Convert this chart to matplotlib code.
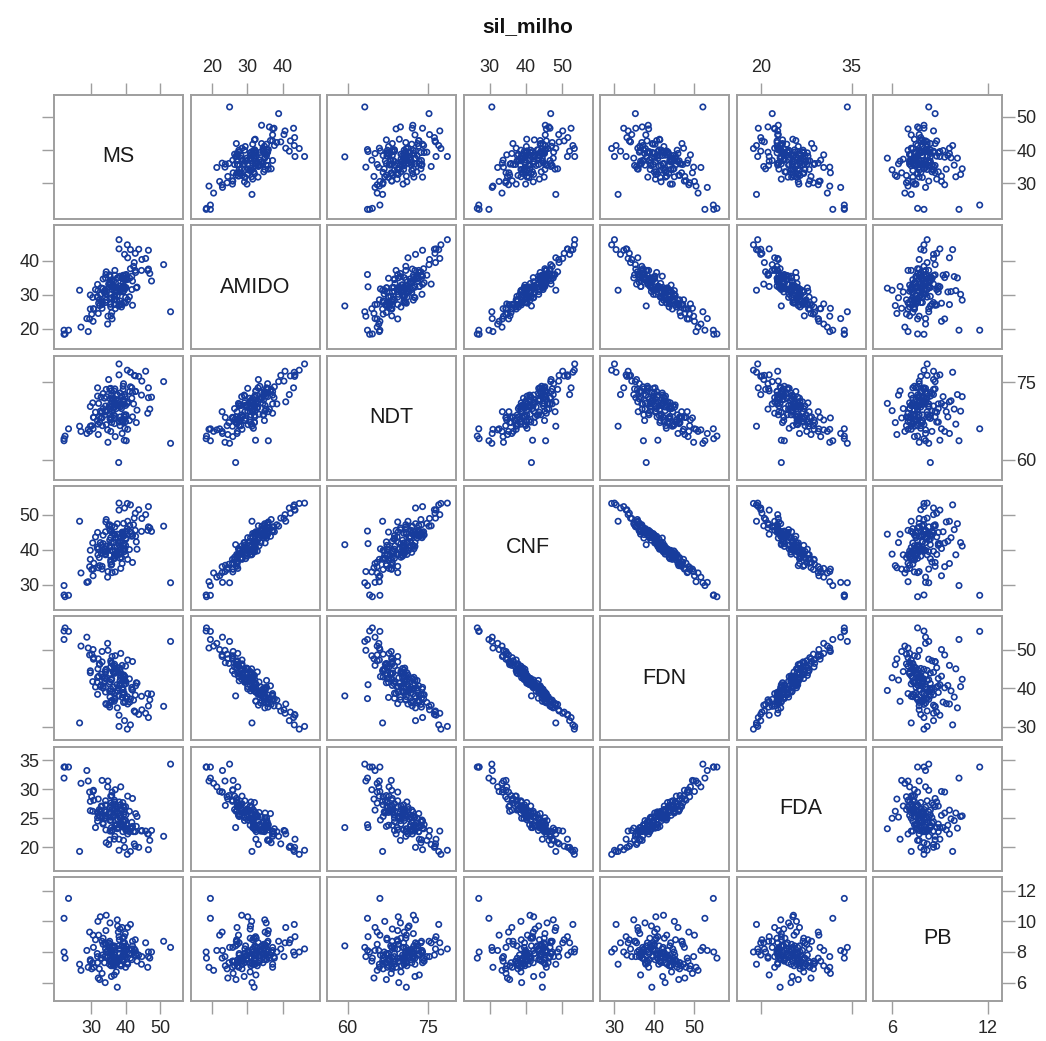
import matplotlib
matplotlib.use('Agg')
import matplotlib.pyplot as plt
import numpy as np

plt.rcParams['font.family'] = ['Liberation Sans', 'DejaVu Sans']

# ---- data ----
MS = [42.8, 29.8, 38.3, 35.1, 40.6, 37.9, 31.9, 42.3, 29.2, 42.0,
      33.0, 42.8, 39.0, 30.5, 40.1, 30.2, 42.9, 37.6, 29.8, 39.6,
      41.4, 35.8, 34.2, 53.0, 39.4, 43.3, 32.2, 39.6, 33.2, 35.4,
      37.6, 32.7, 44.6, 22.2, 39.2, 43.8, 32.5, 35.7, 38.4, 34.3,
      39.5, 39.7, 30.8, 36.7, 31.9, 39.6, 27.1, 46.6, 38.4, 35.7,
      36.9, 36.1, 37.7, 36.4, 46.6, 31.8, 42.0, 36.7, 39.2, 33.5,
      22.5, 39.2, 33.9, 44.7, 32.1, 41.8, 32.0, 39.0, 34.8, 35.3,
      40.5, 37.5, 31.3, 39.9, 38.6, 33.3, 38.0, 32.4, 45.8, 35.5,
      38.4, 28.8, 41.4, 40.0, 35.4, 34.4, 37.0, 34.4, 37.3, 43.1,
      35.9, 35.7, 26.7, 39.5, 46.4, 30.6, 32.9, 38.2, 42.5, 34.1,
      39.0, 36.0, 35.5, 23.5, 40.0, 51.0, 34.4, 39.3, 29.6, 39.8,
      22.2, 41.8, 35.5, 36.6, 38.1, 41.1, 37.6, 30.7, 47.0, 34.2,
      35.5, 47.5, 33.2, 40.6, 38.8, 38.1, 34.9, 33.5, 35.9, 40.2,
      39.3, 36.0, 40.5, 34.2, 37.5, 36.0, 38.6, 40.1, 37.1, 36.9,
      36.5, 37.0, 39.3, 34.0, 41.2, 36.8, 36.2, 38.5, 36.9, 36.8]

AMIDO = [37.1, 25.8, 32.5, 33.1, 28.5, 35.0, 29.3, 38.3, 19.2, 34.0,
         27.9, 42.1, 27.1, 29.2, 34.6, 24.3, 36.5, 34.9, 29.9, 32.1,
         43.2, 23.8, 34.9, 25.0, 35.7, 32.2, 27.5, 34.4, 26.0, 35.8,
         29.8, 30.1, 37.1, 18.4, 30.8, 43.3, 26.8, 30.1, 28.2, 35.9,
         27.7, 41.8, 25.8, 29.5, 33.0, 32.3, 20.5, 37.5, 35.4, 26.4,
         37.1, 22.9, 30.9, 32.8, 43.0, 29.3, 26.9, 32.4, 32.0, 34.6,
         18.5, 32.5, 30.6, 40.3, 24.5, 31.5, 31.2, 34.8, 21.4, 32.2,
         44.6, 28.3, 31.5, 35.7, 27.3, 27.7, 26.7, 28.5, 40.6, 27.3,
         30.8, 23.0, 37.6, 27.6, 32.9, 28.4, 25.9, 36.7, 30.8, 32.0,
         32.4, 27.2, 31.3, 31.2, 37.1, 22.2, 32.0, 27.0, 39.4, 31.3,
         35.2, 24.8, 35.3, 19.6, 29.2, 38.8, 30.2, 33.5, 22.9, 31.7,
         19.6, 35.4, 33.7, 28.5, 43.4, 29.4, 31.9, 25.9, 36.2, 27.7,
         33.3, 34.0, 27.1, 40.8, 26.4, 46.1, 23.7, 31.8, 29.1, 35.9,
         34.6, 31.6, 34.4, 29.3, 32.2, 34.1, 31.8, 32.1, 33.4, 29.9,
         33.8, 28.7, 35.6, 31.0, 34.8, 31.0, 32.2, 31.1, 35.7, 27.1]

NDT = [73.2, 66.5, 71.1, 75.5, 65.9, 70.5, 72.3, 70.8, 65.9, 73.0,
       68.2, 76.2, 65.1, 71.0, 68.7, 66.6, 73.2, 72.6, 70.3, 68.3,
       76.9, 68.2, 69.4, 63.2, 74.7, 69.6, 70.9, 68.7, 68.1, 73.7,
       70.6, 69.4, 72.5, 64.1, 67.3, 76.1, 67.2, 73.8, 66.6, 69.3,
       70.7, 72.6, 68.2, 68.0, 73.9, 63.8, 65.5, 72.0, 72.9, 67.7,
       70.8, 69.3, 71.4, 70.0, 73.9, 67.6, 68.3, 73.3, 67.3, 72.8,
       64.6, 70.8, 71.9, 75.2, 64.9, 71.9, 66.9, 67.6, 65.8, 70.5,
       77.3, 70.5, 69.2, 72.2, 67.7, 66.6, 59.5, 68.3, 77.1, 67.9,
       68.3, 65.1, 74.1, 67.4, 70.2, 72.2, 64.5, 73.6, 69.9, 67.2,
       73.3, 65.5, 66.5, 71.2, 69.0, 66.0, 72.1, 67.3, 76.3, 69.5,
       72.3, 67.2, 69.8, 66.0, 70.5, 75.1, 66.8, 74.2, 65.5, 66.1,
       63.7, 73.9, 71.8, 68.7, 76.4, 67.6, 70.9, 68.2, 69.8, 70.4,
       68.8, 72.1, 69.3, 71.2, 69.9, 78.5, 63.4, 69.9, 72.5, 63.7,
       71.6, 71.3, 70.9, 69.3, 72.5, 72.0, 70.5, 68.6, 71.7, 70.2,
       71.7, 68.4, 73.6, 68.7, 73.2, 71.0, 70.4, 70.2, 73.7, 67.0]

CNF = [45.6, 37.3, 42.3, 46.9, 37.3, 42.0, 40.3, 47.2, 30.9, 44.1,
       39.0, 50.5, 36.1, 42.0, 43.4, 34.4, 43.9, 47.5, 39.9, 39.5,
       52.9, 35.6, 45.2, 30.6, 47.6, 40.2, 40.4, 44.1, 34.5, 47.2,
       39.2, 42.1, 45.3, 27.1, 41.3, 51.5, 35.5, 43.5, 37.6, 48.0,
       40.2, 52.0, 36.2, 37.5, 45.0, 41.8, 33.4, 46.6, 43.4, 37.1,
       46.6, 33.5, 43.5, 39.7, 52.4, 40.8, 36.4, 44.5, 40.2, 44.2,
       26.6, 45.0, 39.3, 49.0, 34.9, 44.7, 38.6, 45.1, 32.2, 40.7,
       53.3, 38.8, 43.7, 45.2, 34.7, 39.9, 41.5, 37.8, 50.1, 38.4,
       42.5, 30.7, 45.2, 38.6, 42.8, 41.1, 33.7, 48.7, 38.6, 42.3,
       45.2, 36.5, 48.2, 39.9, 45.6, 32.6, 41.4, 38.7, 49.1, 38.8,
       44.4, 35.9, 45.8, 27.0, 41.3, 46.8, 39.7, 44.3, 35.2, 40.3,
       29.8, 43.9, 45.6, 37.6, 51.4, 40.1, 44.5, 34.5, 46.3, 39.6,
       41.2, 45.3, 35.3, 48.2, 37.9, 53.4, 33.8, 41.8, 42.1, 45.4,
       43.9, 39.8, 46.1, 38.6, 41.0, 46.8, 39.4, 43.1, 43.5, 38.2,
       42.1, 39.8, 44.9, 40.2, 47.0, 38.7, 44.8, 40.8, 44.4, 37.6]

FDN = [38.2, 44.5, 41.0, 35.6, 47.3, 40.1, 42.8, 36.9, 50.4, 39.5,
       43.6, 33.8, 45.9, 41.7, 37.4, 48.8, 40.6, 34.9, 44.0, 42.2,
       30.5, 46.6, 39.0, 52.1, 36.3, 41.3, 43.1, 38.7, 49.5, 35.1,
       45.2, 40.4, 37.9, 54.8, 42.5, 33.2, 46.1, 39.8, 44.8, 36.0,
       41.9, 31.6, 47.9, 43.9, 38.4, 40.9, 50.9, 35.4, 42.0, 45.5,
       37.1, 48.2, 39.3, 44.2, 32.4, 41.5, 46.9, 36.6, 43.3, 40.0,
       55.6, 38.9, 42.6, 34.4, 47.6, 39.7, 45.0, 37.6, 51.6, 41.1,
       29.4, 44.7, 40.3, 36.4, 49.0, 42.9, 38.0, 46.3, 33.5, 43.8,
       40.7, 53.2, 37.2, 45.7, 39.2, 42.3, 48.4, 35.8, 44.3, 41.4,
       36.7, 47.1, 31.0, 43.4, 38.6, 50.0, 40.8, 45.3, 34.1, 42.7,
       39.9, 46.4, 37.7, 54.7, 41.8, 35.3, 44.9, 38.3, 48.6, 43.0,
       52.6, 40.2, 36.2, 45.8, 33.0, 42.4, 39.4, 47.5, 37.0, 44.1,
       41.6, 38.5, 46.8, 35.9, 43.7, 30.1, 49.8, 40.5, 42.1, 37.3,
       39.6, 42.4, 37.8, 44.6, 40.9, 36.8, 43.2, 41.2, 38.8, 45.1,
       40.3, 43.9, 38.3, 41.8, 36.4, 44.0, 39.1, 42.7, 37.4, 46.2]

FDA = [22.7, 27.9, 25.3, 20.5, 28.8, 25.9, 25.1, 22.7, 31.4, 23.6,
       27.1, 20.2, 26.4, 26.2, 22.9, 28.7, 25.8, 23.3, 26.3, 26.1,
       19.3, 27.2, 25.1, 34.3, 21.2, 25.3, 25.5, 24.4, 31.5, 21.3,
       26.2, 25.3, 22.8, 33.8, 27.1, 20.0, 26.2, 24.7, 27.3, 23.0,
       25.7, 20.0, 28.1, 26.4, 24.5, 23.4, 31.0, 22.3, 25.0, 28.8,
       21.9, 29.5, 24.9, 25.5, 19.6, 26.0, 28.4, 21.4, 27.7, 24.2,
       33.8, 22.7, 26.4, 22.9, 28.3, 24.3, 25.9, 23.8, 30.4, 26.0,
       18.8, 26.6, 23.4, 23.4, 30.4, 25.3, 23.4, 26.5, 22.8, 26.9,
       23.8, 33.2, 23.2, 27.0, 25.2, 25.4, 29.9, 20.8, 27.1, 23.6,
       23.4, 27.6, 19.3, 26.9, 22.3, 29.6, 26.1, 27.8, 20.6, 25.0,
       23.8, 28.9, 24.6, 33.8, 24.6, 21.9, 26.1, 23.9, 29.5, 24.7,
       31.9, 23.3, 22.8, 27.5, 21.4, 26.2, 23.2, 29.8, 21.2, 27.3,
       26.0, 22.9, 27.0, 22.3, 26.5, 19.5, 31.4, 24.0, 25.2, 23.9,
       23.6, 26.5, 22.8, 28.0, 23.9, 22.8, 25.0, 25.6, 23.9, 26.6,
       25.2, 26.0, 24.4, 25.0, 22.7, 27.8, 23.0, 25.5, 23.7, 28.1]

PB = [8.1, 7.4, 7.9, 8.6, 7.2, 9.3, 7.7, 8.0, 7.0, 8.4,
      7.6, 8.8, 9.6, 7.3, 8.2, 6.9, 7.8, 10.1, 7.5, 8.3,
      9.8, 7.1, 8.5, 8.3, 7.7, 7.4, 9.1, 7.9, 6.6, 8.7,
      7.5, 10.3, 7.2, 8.0, 8.9, 7.8, 6.2, 8.1, 7.6, 9.4,
      7.9, 8.6, 7.0, 8.4, 7.3, 9.0, 6.8, 7.7, 8.2, 7.4,
      8.3, 7.6, 9.7, 7.1, 8.0, 7.9, 8.7, 6.5, 7.8, 8.5,
      7.6, 8.9, 7.3, 7.7, 6.3, 8.2, 10.0, 7.5, 8.1, 7.2,
      8.0, 7.4, 8.8, 9.2, 7.1, 7.8, 8.4, 6.9, 8.6, 7.5,
      9.5, 8.1, 7.6, 7.0, 8.3, 10.4, 7.4, 8.0, 6.7, 7.9,
      7.8, 8.5, 7.2, 8.1, 7.0, 9.1, 7.6, 8.8, 8.2, 6.0,
      8.4, 7.3, 9.9, 11.5, 7.7, 8.7, 8.0, 7.4, 9.3, 7.8,
      10.2, 7.5, 8.1, 7.2, 9.0, 7.9, 5.7, 8.3, 7.6, 8.6,
      7.4, 8.0, 8.7, 9.6, 7.1, 8.2, 7.7, 8.9, 6.4, 8.1,
      7.7, 8.0, 7.3, 8.2, 7.6, 7.9, 7.2, 8.4, 7.5, 7.8,
      8.1, 7.4, 8.6, 7.7, 7.9, 7.1, 8.3, 7.6, 8.0, 7.3]

names = ['MS', 'AMIDO', 'NDT', 'CNF', 'FDN', 'FDA', 'PB']
series = {'MS': MS, 'AMIDO': AMIDO, 'NDT': NDT, 'CNF': CNF,
          'FDN': FDN, 'FDA': FDA, 'PB': PB}
xticks = {'MS': [30, 40, 50], 'AMIDO': [20, 30, 40], 'NDT': [60, 75],
          'CNF': [30, 40, 50], 'FDN': [30, 40, 50], 'FDA': [20, 35], 'PB': [6, 12]}
yticks = {'MS': [30, 40, 50], 'AMIDO': [20, 30, 40], 'NDT': [60, 75],
          'CNF': [30, 40, 50], 'FDN': [30, 40, 50], 'FDA': [20, 25, 30, 35],
          'PB': [6, 8, 10, 12]}
title = 'sil_milho'

# ---- layout / style ----
limits = {'MS': (19.3, 56.6), 'AMIDO': (14.0, 50.3), 'NDT': (56.2, 80.1),
          'CNF': (22.8, 58.3), 'FDN': (26.5, 58.6), 'FDA': (16.0, 37.3),
          'PB': (4.8, 12.9)}
W, H = 1046, 1041
x0, y0 = 54.0, 95.0
pw, ph = 129.0, 124.0
dx, dy = 136.5, 130.33
frame_col = '#9e9e9e'
text_col = '#262626'
pt_col = '#173c9c'

fig = plt.figure(figsize=(W / 100, H / 100), dpi=100)
fig.patch.set_facecolor('white')

n = len(names)
for r in range(n):
    for c in range(n):
        left = (x0 + c * dx) / W
        bottom = 1 - (y0 + r * dy + ph) / H
        ax = fig.add_axes([left, bottom, pw / W, ph / H])
        xv, yv = names[c], names[r]
        ax.set_xlim(limits[xv])
        ax.set_ylim(limits[yv])
        for s in ax.spines.values():
            s.set_color(frame_col)
            s.set_linewidth(1.4)
        if r == c:
            ax.text(0.5, 0.5, xv, transform=ax.transAxes, ha='center',
                    va='center', fontsize=15.5, color='#1a1a1a')
        else:
            ax.scatter(series[xv], series[yv], s=15, facecolors='none',
                       edgecolors=pt_col, linewidths=1.2)
        ax.set_xticks(xticks[xv])
        ax.set_yticks(yticks[yv])
        ax.tick_params(axis='both', which='both', length=9, width=1.0,
                       color=frame_col, labelcolor=text_col, labelsize=13)
        ax.tick_params(axis='x', pad=5)
        ax.tick_params(axis='y', pad=1.5)
        ax.tick_params(top=(r == 0), bottom=(r == n - 1),
                       labeltop=(r == 0 and c % 2 == 1),
                       labelbottom=(r == n - 1 and c % 2 == 0),
                       left=(c == 0), right=(c == n - 1),
                       labelleft=(c == 0 and r % 2 == 1),
                       labelright=(c == n - 1 and r % 2 == 0))

fig.text((x0 + (6 * dx + pw) / 2) / W, 1 - 27 / H, title, ha='center',
         va='center', fontsize=15, fontweight='bold', color='#111111')

fig.savefig('out.png', dpi=100)
